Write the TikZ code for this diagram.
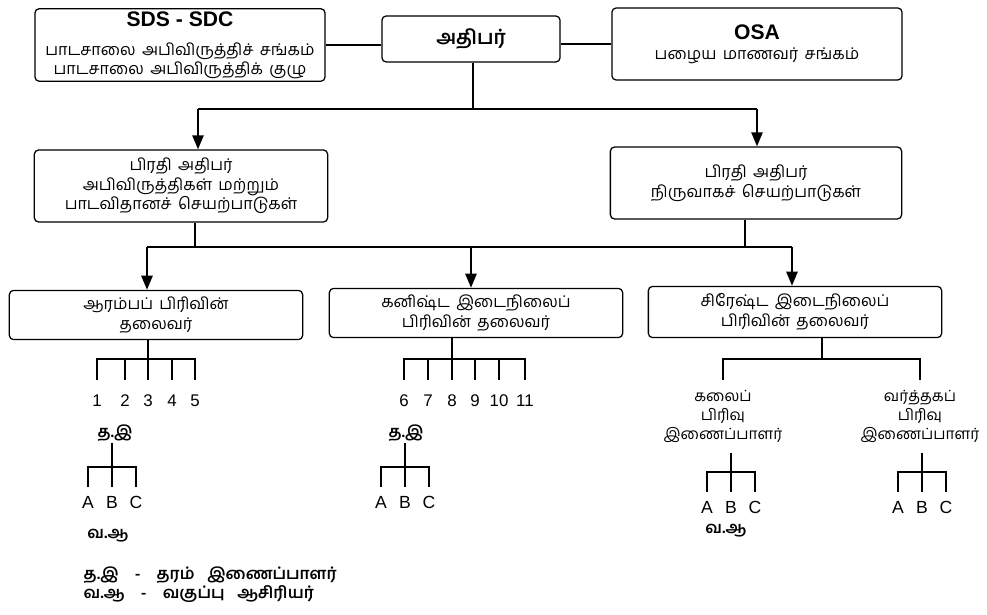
\documentclass[tikz,border=0pt]{standalone}
\usepackage{fontspec}
\usetikzlibrary{arrows.meta}
\setmainfont{Liberation Sans}
\newfontfamily\tamil[Script=Tamil,WordSpace=1.6]{Hind Madurai}

\begin{document}
\begin{tikzpicture}[x=0.025cm,y=-0.025cm,
  box/.style={draw,rounded corners=3pt,line width=0.9pt,align=center,inner sep=2pt,
    font=\tamil\fontsize{11.5}{14}\selectfont},
  link/.style={line width=1.3pt},
  arr/.style={link,-{Triangle[width=8pt,length=10pt]}},
  twig/.style={line width=0.8pt},
  num/.style={anchor=north,inner xsep=1pt,inner ysep=10.5pt,font=\fontsize{12}{13}\selectfont},
  abc/.style={anchor=north,inner xsep=1pt,inner ysep=6.5pt,font=\fontsize{12.5}{14}\selectfont},
  tam/.style={inner sep=1pt,align=center,font=\tamil\fontsize{11}{13.5}\selectfont},
  abbr/.style={inner sep=1pt,font=\tamil\bfseries\fontsize{11.5}{13}\selectfont}]
\useasboundingbox (0,0) rectangle (987,615);

% top row
\node[box,minimum width=7.25cm,minimum height=1.75cm] (sds) at (180,45)
  {{\normalfont\bfseries\fontsize{15}{17}\selectfont SDS - SDC}\\[7pt]
   பாடசாலை அபிவிருத்திச் சங்கம்\\[-1pt] பாடசாலை அபிவிருத்திக் குழு};
\node[box,minimum width=4.45cm,minimum height=1.15cm,font=\tamil\bfseries\fontsize{14}{16}\selectfont] (adhipar) at (471,39) {அதிபர்};
\node[box,minimum width=7.25cm,minimum height=1.8cm] (osa) at (757,44)
  {{\normalfont\bfseries\fontsize{15}{17}\selectfont OSA}\\ பழைய மாணவர் சங்கம்};
\draw[link] (sds.east) -- (sds.east -| adhipar.west);
\draw[link] (adhipar.east |- osa.west) -- (osa.west);

% deputy principals
\node[box,minimum width=7.33cm,minimum height=1.8cm] (dpL) at (181,186)
  {பிரதி அதிபர்\\ அபிவிருத்திகள் மற்றும்\\ பாடவிதானச் செயற்பாடுகள்};
\node[box,minimum width=7.28cm,minimum height=1.8cm] (dpR) at (756,183)
  {பிரதி அதிபர்\\ நிருவாகச் செயற்பாடுகள்};
\coordinate (s1) at (473,109);
\coordinate (l1) at (198,109);
\coordinate (r1) at (757,109);
\draw[link] (adhipar.south -| s1) -- (s1);
\draw[link] (l1) -- (r1);
\draw[arr] (l1) -- (l1 |- dpL.north);
\draw[arr] (r1) -- (r1 |- dpR.north);

% section heads
\node[box,minimum width=7.33cm,minimum height=1.23cm] (hL) at (156,315)
  {ஆரம்பப் பிரிவின்\\ தலைவர்};
\node[box,minimum width=7.33cm,minimum height=1.23cm] (hM) at (476,313)
  {கனிஷ்ட இடைநிலைப்\\ பிரிவின் தலைவர்};
\node[box,minimum width=7.33cm,minimum height=1.28cm] (hS) at (795,312)
  {சிரேஷ்ட இடைநிலைப்\\ பிரிவின் தலைவர்};
\coordinate (jL) at (195,247);
\coordinate (jR) at (745,247);
\coordinate (fA) at (147,247);
\coordinate (fB) at (471,247);
\coordinate (fC) at (792,247);
\draw[link] (dpL.south -| jL) -- (jL);
\draw[link] (dpR.south -| jR) -- (jR);
\draw[link] (fA) -- (fC);
\foreach \f/\h in {fA/hL,fB/hM,fC/hS}
  {\draw[arr] (\f) -- (\f |- \h.north);}

% grades
\coordinate (barP) at (0,359);
\foreach \n/\x in {1/97,2/125,3/148,4/172,5/195,6/404,7/428,8/452,9/475,10/499,11/525}
  {\node[num] (g\n) at (\x,380) {\n};}
\draw[twig] (g1.north) |- (barP -| g5) -- (g5.north);
\draw[twig] (g6.north) |- (barP -| g11) -- (g11.north);
\foreach \n in {2,4,7,9,10}
  {\draw[twig] (g\n.north) -- (g\n.north |- barP);}
\draw[twig] (hL.south -| g3) -- (g3.north);
\draw[twig] (hM.south -| g8) -- (g8.north);

% senior section coordinators
\coordinate (jS) at (822,359);
\node[tam,anchor=north,inner ysep=7pt] (kalai) at (723,380) {கலைப்\\ பிரிவு\\ இணைப்பாளர்};
\node[tam,anchor=north,inner ysep=7pt] (vart) at (920,380) {வர்த்தகப்\\ பிரிவு\\ இணைப்பாளர்};
\draw[twig] (hS.south -| jS) -- (jS);
\draw[twig] (kalai.north) |- (jS) -| (vart.north);

% grade coordinators and classes
\node[abbr] (tiL) at (115,433) {த.இ};
\node[abbr] (tiM) at (406,433) {த.இ};
\foreach \g/\x/\y in {L/112/487,M/405/487,K/731/492,V/922/492}
  {\node[abc] (\g A) at (\x-24,\y) {A};
   \node[abc] (\g B) at (\x,\y) {B};
   \node[abc] (\g C) at (\x+24,\y) {C};
   \draw[twig] (\g A.north) -- ++(0,-20) -| (\g C.north);}
\draw[twig] (tiL.south -| LB) -- (LB.north);
\draw[twig] (tiM.south -| MB) -- (MB.north);
\draw[twig] (kalai.south -| KB) -- (KB.north);
\draw[twig] (vart.south -| VB) -- (VB.north);
\node[abbr] (vaL) at (108,536) {வ.ஆ};
\node[abbr] (vaK) at (726,531) {வ.ஆ};

% key
\node[abbr,anchor=west] (leg1) at (82,575) {த.இ\quad-\quad தரம்\ \ இணைப்பாளர்};
\node[abbr,anchor=west] (leg2) at (82,594) {வ.ஆ\quad-\quad வகுப்பு\ \ ஆசிரியர்};
\end{tikzpicture}
\end{document}
